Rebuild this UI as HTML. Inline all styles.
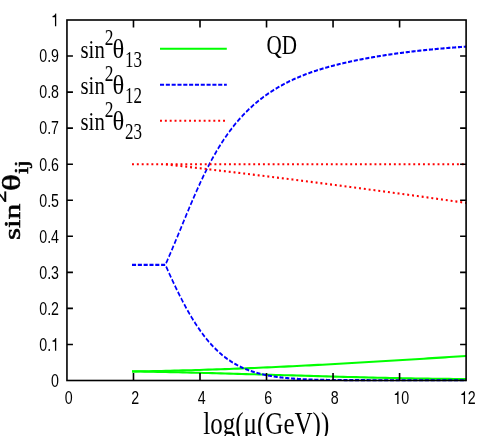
<!DOCTYPE html>
<html><head><meta charset="utf-8"><title>plot</title>
<style>html,body{margin:0;padding:0;background:#fff;overflow:hidden}svg{display:block;will-change:transform}</style>
</head><body>
<svg width="491" height="436" viewBox="0 0 491 436">
<rect width="491" height="436" fill="#fff"/>
<g transform="scale(0.7950,1)">
<polyline stroke="#00ff00" stroke-width="2.10" fill="none" points="166.04,371.45 171.36,371.39 176.68,371.32 182.00,371.25 187.32,371.18 192.64,371.10 197.96,371.02 203.28,370.93 208.59,370.84 213.91,370.74 219.23,370.64 224.55,370.53 229.87,370.42 235.19,370.31 240.51,370.19 245.83,370.07 251.15,369.94 256.47,369.81 261.79,369.67 267.11,369.53 272.43,369.39 277.75,369.24 283.07,369.09 288.39,368.93 293.71,368.77 299.03,368.61 304.35,368.45 309.67,368.28 314.99,368.10 320.31,367.93 325.63,367.75 330.95,367.56 336.27,367.38 341.59,367.19 346.91,366.99 352.23,366.80 357.54,366.60 362.86,366.40 368.18,366.19 373.50,365.98 378.82,365.77 384.14,365.56 389.46,365.34 394.78,365.12 400.10,364.90 405.42,364.68 410.74,364.45 416.06,364.22 421.38,363.99 426.70,363.76 432.02,363.52 437.34,363.28 442.66,363.04 447.98,362.80 453.30,362.56 458.62,362.31 463.94,362.06 469.26,361.81 474.58,361.56 479.90,361.31 485.22,361.05 490.54,360.80 495.86,360.54 501.18,360.28 506.49,360.02 511.81,359.76 517.13,359.49 522.45,359.23 527.77,358.96 533.09,358.69 538.41,358.42 543.73,358.15 549.05,357.88 554.37,357.61 559.69,357.34 565.01,357.07 570.33,356.79 575.65,356.52 580.97,356.24 586.29,355.97"/>
<polyline stroke="#00ff00" stroke-width="2.10" fill="none" points="166.04,371.42 171.36,371.49 176.68,371.56 182.00,371.63 187.32,371.71 192.64,371.78 197.96,371.87 203.28,371.95 208.59,372.04 213.91,372.13 219.23,372.22 224.55,372.31 229.87,372.41 235.19,372.51 240.51,372.61 245.83,372.72 251.15,372.82 256.47,372.93 261.79,373.04 267.11,373.15 272.43,373.26 277.75,373.37 283.07,373.49 288.39,373.60 293.71,373.72 299.03,373.84 304.35,373.96 309.67,374.08 314.99,374.20 320.31,374.32 325.63,374.44 330.95,374.56 336.27,374.68 341.59,374.81 346.91,374.93 352.23,375.05 357.54,375.18 362.86,375.30 368.18,375.42 373.50,375.54 378.82,375.67 384.14,375.79 389.46,375.91 394.78,376.03 400.10,376.15 405.42,376.26 410.74,376.38 416.06,376.50 421.38,376.61 426.70,376.73 432.02,376.84 437.34,376.95 442.66,377.06 447.98,377.17 453.30,377.27 458.62,377.38 463.94,377.48 469.26,377.58 474.58,377.68 479.90,377.77 485.22,377.86 490.54,377.95 495.86,378.04 501.18,378.13 506.49,378.21 511.81,378.29 517.13,378.37 522.45,378.44 527.77,378.51 533.09,378.58 538.41,378.64 543.73,378.70 549.05,378.76 554.37,378.81 559.69,378.86 565.01,378.91 570.33,378.95 575.65,378.99 580.97,379.02 586.29,379.05"/>
<polyline stroke="#0000ff" stroke-width="2.10" fill="none" stroke-dasharray="5.12,2.20" points="166.04,264.90 207.92,264.90 208.68,263.64 209.44,262.28 210.20,260.91 210.96,259.53 211.72,258.15 212.47,256.76 213.23,255.36 213.99,253.95 214.75,252.54 215.51,251.13 216.27,249.70 217.02,248.28 217.78,246.85 218.54,245.41 219.30,243.97 220.06,242.52 220.81,241.08 221.57,239.62 222.33,238.17 223.09,236.71 223.85,235.25 224.61,233.79 225.36,232.33 226.12,230.87 226.88,229.40 227.64,227.94 228.40,226.47 229.16,225.01 229.91,223.55 230.67,222.08 231.43,220.62 232.19,219.16 232.95,217.70 233.70,216.25 234.46,214.80 235.22,213.35 235.98,211.90 236.74,210.46 237.50,209.02 238.25,207.59 239.01,206.16 239.77,204.73 240.53,203.31 241.29,201.90 242.05,200.49 242.80,199.09 243.56,197.69 244.32,196.30 245.08,194.92 245.84,193.54 246.60,192.17 247.35,190.81 248.11,189.46 248.87,188.11 249.63,186.77 250.39,185.44 251.14,184.12 251.90,182.81 252.66,181.51 253.42,180.22 254.18,178.93 254.94,177.66 255.69,176.39 256.45,175.14 257.21,173.89 257.97,172.66 258.73,171.43 259.49,170.22 260.24,169.02 261.00,167.83 261.76,166.64 262.52,165.47 263.28,164.31 264.03,163.17 264.79,162.03 265.55,160.90 266.31,159.78 267.07,158.68 267.83,157.58 268.58,156.50 269.34,155.43 270.10,154.36 270.86,153.31 271.62,152.27 272.38,151.24 273.13,150.22 273.89,149.21 274.65,148.21 275.41,147.22 276.17,146.24 276.92,145.27 277.68,144.31 278.44,143.36 279.20,142.42 279.96,141.49 280.72,140.56 281.47,139.65 282.23,138.75 282.99,137.86 283.75,136.98 284.51,136.11 285.27,135.24 286.02,134.39 286.78,133.54 287.54,132.71 288.30,131.88 289.06,131.06 289.82,130.25 290.57,129.45 291.33,128.66 292.09,127.88 292.85,127.10 293.61,126.34 294.36,125.58 295.12,124.83 295.88,124.09 296.64,123.35 297.40,122.63 298.16,121.91 298.91,121.20 299.67,120.50 300.43,119.81 301.19,119.12 301.95,118.44 302.71,117.77 303.46,117.10 304.22,116.45 304.98,115.80 305.74,115.15 306.50,114.52 307.25,113.89 308.01,113.27 308.77,112.65 309.53,112.04 310.29,111.44 311.05,110.84 311.80,110.25 312.56,109.67 313.32,109.09 314.08,108.52 314.84,107.96 315.60,107.40 316.35,106.85 317.11,106.30 317.87,105.76 318.63,105.23 319.39,104.70 320.14,104.17 320.90,103.66 321.66,103.14 322.42,102.63 323.18,102.13 323.94,101.64 324.69,101.14 325.45,100.66 326.21,100.18 326.97,99.70 327.73,99.23 328.49,98.76 329.24,98.30 330.00,97.84 330.76,97.39 331.52,96.94 332.28,96.49 333.04,96.05 333.79,95.62 334.55,95.19 335.31,94.76 336.07,94.34 336.83,93.92 337.58,93.51 338.34,93.10 339.10,92.69 339.86,92.29 340.62,91.89 341.38,91.50 342.13,91.11 342.89,90.72 343.65,90.34 344.41,89.96 345.17,89.58 345.93,89.21 346.68,88.84 347.44,88.48 348.20,88.12 348.96,87.76 349.72,87.41 350.47,87.06 351.23,86.71 351.99,86.37 352.75,86.03 353.51,85.69 354.27,85.36 355.02,85.03 355.78,84.70 356.54,84.38 357.30,84.06 358.06,83.74 358.82,83.42 359.57,83.11 360.33,82.80 361.09,82.50 361.85,82.19 362.61,81.89 363.36,81.60 364.12,81.30 364.88,81.01 365.64,80.72 366.40,80.44 367.16,80.15 367.91,79.87 368.67,79.59 369.43,79.32 370.19,79.05 370.95,78.78 371.71,78.51 372.46,78.24 373.22,77.98 373.98,77.72 374.74,77.46 375.50,77.21 376.26,76.95 377.01,76.70 377.77,76.45 378.53,76.21 379.29,75.96 380.05,75.72 380.80,75.48 381.56,75.24 382.32,75.01 383.08,74.77 383.84,74.54 384.60,74.31 385.35,74.08 386.11,73.86 386.87,73.63 387.63,73.41 388.39,73.19 389.15,72.98 389.90,72.76 390.66,72.55 391.42,72.33 392.18,72.12 392.94,71.92 393.69,71.71 394.45,71.50 395.21,71.30 395.97,71.10 396.73,70.90 397.49,70.70 398.24,70.51 399.00,70.31 399.76,70.12 400.52,69.93 401.28,69.74 402.04,69.55 402.79,69.36 403.55,69.18 404.31,68.99 405.07,68.81 405.83,68.63 406.58,68.45 407.34,68.27 408.10,68.09 408.86,67.92 409.62,67.74 410.38,67.57 411.13,67.40 411.89,67.23 412.65,67.06 413.41,66.89 414.17,66.73 414.93,66.56 415.68,66.40 416.44,66.24 417.20,66.08 417.96,65.91 418.72,65.76 419.48,65.60 420.23,65.44 420.99,65.29 421.75,65.13 422.51,64.98 423.27,64.83 424.02,64.67 424.78,64.52 425.54,64.37 426.30,64.23 427.06,64.08 427.82,63.93 428.57,63.79 429.33,63.64 430.09,63.50 430.85,63.36 431.61,63.22 432.37,63.08 433.12,62.94 433.88,62.80 434.64,62.66 435.40,62.52 436.16,62.39 436.91,62.25 437.67,62.12 438.43,61.98 439.19,61.85 439.95,61.72 440.71,61.58 441.46,61.45 442.22,61.32 442.98,61.19 443.74,61.07 444.50,60.94 445.26,60.81 446.01,60.69 446.77,60.56 447.53,60.44 448.29,60.31 449.05,60.19 449.81,60.07 450.56,59.94 451.32,59.82 452.08,59.70 452.84,59.58 453.60,59.46 454.35,59.35 455.11,59.23 455.87,59.11 456.63,59.00 457.39,58.88 458.15,58.77 458.90,58.65 459.66,58.54 460.42,58.43 461.18,58.31 461.94,58.20 462.70,58.09 463.45,57.98 464.21,57.87 464.97,57.77 465.73,57.66 466.49,57.55 467.24,57.44 468.00,57.34 468.76,57.23 469.52,57.13 470.28,57.02 471.04,56.92 471.79,56.82 472.55,56.71 473.31,56.61 474.07,56.51 474.83,56.41 475.59,56.31 476.34,56.21 477.10,56.11 477.86,56.01 478.62,55.92 479.38,55.82 480.13,55.72 480.89,55.63 481.65,55.53 482.41,55.44 483.17,55.34 483.93,55.25 484.68,55.16 485.44,55.06 486.20,54.97 486.96,54.88 487.72,54.79 488.48,54.70 489.23,54.61 489.99,54.52 490.75,54.43 491.51,54.34 492.27,54.26 493.03,54.17 493.78,54.08 494.54,54.00 495.30,53.91 496.06,53.82 496.82,53.74 497.57,53.66 498.33,53.57 499.09,53.49 499.85,53.41 500.61,53.32 501.37,53.24 502.12,53.16 502.88,53.08 503.64,53.00 504.40,52.92 505.16,52.84 505.92,52.76 506.67,52.69 507.43,52.61 508.19,52.53 508.95,52.45 509.71,52.38 510.46,52.30 511.22,52.23 511.98,52.15 512.74,52.08 513.50,52.00 514.26,51.93 515.01,51.85 515.77,51.78 516.53,51.71 517.29,51.64 518.05,51.57 518.81,51.49 519.56,51.42 520.32,51.35 521.08,51.28 521.84,51.21 522.60,51.14 523.35,51.08 524.11,51.01 524.87,50.94 525.63,50.87 526.39,50.81 527.15,50.74 527.90,50.67 528.66,50.61 529.42,50.54 530.18,50.48 530.94,50.41 531.70,50.35 532.45,50.28 533.21,50.22 533.97,50.16 534.73,50.09 535.49,50.03 536.25,49.97 537.00,49.91 537.76,49.85 538.52,49.79 539.28,49.73 540.04,49.67 540.79,49.61 541.55,49.55 542.31,49.49 543.07,49.43 543.83,49.37 544.59,49.31 545.34,49.25 546.10,49.20 546.86,49.14 547.62,49.08 548.38,49.03 549.14,48.97 549.89,48.92 550.65,48.86 551.41,48.81 552.17,48.75 552.93,48.70 553.68,48.64 554.44,48.59 555.20,48.54 555.96,48.48 556.72,48.43 557.48,48.38 558.23,48.33 558.99,48.28 559.75,48.22 560.51,48.17 561.27,48.12 562.03,48.07 562.78,48.02 563.54,47.97 564.30,47.92 565.06,47.87 565.82,47.82 566.57,47.78 567.33,47.73 568.09,47.68 568.85,47.63 569.61,47.58 570.37,47.54 571.12,47.49 571.88,47.44 572.64,47.40 573.40,47.35 574.16,47.31 574.92,47.26 575.67,47.22 576.43,47.17 577.19,47.13 577.95,47.08 578.71,47.04 579.47,46.99 580.22,46.95 580.98,46.91 581.74,46.86 582.50,46.82 583.26,46.78 584.01,46.74 584.77,46.70 585.53,46.65 586.29,46.61"/>
<polyline stroke="#0000ff" stroke-width="2.10" fill="none" stroke-dasharray="5.12,2.20" stroke-dashoffset="5.29" points="207.92,264.90 208.58,265.79 209.23,266.96 209.88,268.13 210.53,269.29 211.18,270.45 211.83,271.61 212.48,272.76 213.13,273.90 213.78,275.05 214.43,276.18 215.08,277.31 215.73,278.44 216.39,279.56 217.04,280.68 217.69,281.79 218.34,282.90 218.99,284.00 219.64,285.09 220.29,286.18 220.94,287.27 221.59,288.34 222.24,289.41 222.89,290.48 223.54,291.54 224.19,292.59 224.85,293.64 225.50,294.68 226.15,295.71 226.80,296.74 227.45,297.76 228.10,298.77 228.75,299.77 229.40,300.77 230.05,301.77 230.70,302.75 231.35,303.73 232.00,304.70 232.66,305.66 233.31,306.62 233.96,307.57 234.61,308.51 235.26,309.44 235.91,310.37 236.56,311.29 237.21,312.20 237.86,313.10 238.51,314.00 239.16,314.89 239.81,315.77 240.46,316.64 241.12,317.51 241.77,318.36 242.42,319.21 243.07,320.06 243.72,320.89 244.37,321.72 245.02,322.53 245.67,323.34 246.32,324.15 246.97,324.94 247.62,325.73 248.27,326.51 248.93,327.28 249.58,328.04 250.23,328.79 250.88,329.54 251.53,330.28 252.18,331.01 252.83,331.74 253.48,332.45 254.13,333.16 254.78,333.86 255.43,334.55 256.08,335.24 256.74,335.92 257.39,336.58 258.04,337.25 258.69,337.90 259.34,338.55 259.99,339.19 260.64,339.82 261.29,340.44 261.94,341.06 262.59,341.67 263.24,342.27 263.89,342.86 264.54,343.45 265.20,344.03 265.85,344.60 266.50,345.16 267.15,345.72 267.80,346.27 268.45,346.82 269.10,347.35 269.75,347.88 270.40,348.41 271.05,348.92 271.70,349.43 272.35,349.93 273.01,350.43 273.66,350.92 274.31,351.40 274.96,351.88 275.61,352.35 276.26,352.81 276.91,353.26 277.56,353.71 278.21,354.16 278.86,354.60 279.51,355.03 280.16,355.45 280.81,355.87 281.47,356.29 282.12,356.69 282.77,357.09 283.42,357.49 284.07,357.88 284.72,358.26 285.37,358.64 286.02,359.02 286.67,359.38 287.32,359.74 287.97,360.10 288.62,360.45 289.28,360.80 289.93,361.14 290.58,361.47 291.23,361.81 291.88,362.13 292.53,362.45 293.18,362.77 293.83,363.08 294.48,363.38 295.13,363.68 295.78,363.98 296.43,364.27 297.09,364.56 297.74,364.84 298.39,365.12 299.04,365.39 299.69,365.66 300.34,365.93 300.99,366.19 301.64,366.44 302.29,366.69 302.94,366.94 303.59,367.19 304.24,367.43 304.89,367.66 305.55,367.90 306.20,368.12 306.85,368.35 307.50,368.57 308.15,368.79 308.80,369.00 309.45,369.21 310.10,369.42 310.75,369.62 311.40,369.82 312.05,370.02 312.70,370.21 313.36,370.40 314.01,370.59 314.66,370.77 315.31,370.95 315.96,371.13 316.61,371.30 317.26,371.47 317.91,371.64 318.56,371.81 319.21,371.97 319.86,372.13 320.51,372.28 321.16,372.44 321.82,372.59 322.47,372.74 323.12,372.88 323.77,373.03 324.42,373.17 325.07,373.31 325.72,373.44 326.37,373.58 327.02,373.71 327.67,373.84 328.32,373.96 328.97,374.09 329.63,374.21 330.28,374.33 330.93,374.45 331.58,374.56 332.23,374.68 332.88,374.79 333.53,374.90 334.18,375.01 334.83,375.11 335.48,375.21 336.13,375.32 336.78,375.42 337.44,375.51 338.09,375.61 338.74,375.70 339.39,375.80 340.04,375.89 340.69,375.98 341.34,376.07 341.99,376.15 342.64,376.24 343.29,376.32 343.94,376.40 344.59,376.48 345.24,376.56 345.90,376.64 346.55,376.71 347.20,376.79 347.85,376.86 348.50,376.93 349.15,377.00 349.80,377.07 350.45,377.14 351.10,377.20 351.75,377.27 352.40,377.33 353.05,377.39 353.71,377.45 354.36,377.51 355.01,377.57 355.66,377.63 356.31,377.69 356.96,377.74 357.61,377.80 358.26,377.85 358.91,377.90 359.56,377.96 360.21,378.01 360.86,378.06 361.51,378.10 362.17,378.15 362.82,378.20 363.47,378.24 364.12,378.29 364.77,378.33 365.42,378.38 366.07,378.42 366.72,378.46 367.37,378.50 368.02,378.54 368.67,378.58 369.32,378.62 369.98,378.66 370.63,378.69 371.28,378.73 371.93,378.77 372.58,378.80 373.23,378.83 373.88,378.87 374.53,378.90 375.18,378.93 375.83,378.96 376.48,379.00 377.13,379.03 377.79,379.06 378.44,379.08 379.09,379.11 379.74,379.14 380.39,379.17 381.04,379.20 381.69,379.22 382.34,379.25 382.99,379.27 383.64,379.30 384.29,379.32 384.94,379.35 385.59,379.37 386.25,379.39 386.90,379.42 387.55,379.44 388.20,379.46 388.85,379.48 389.50,379.50 390.15,379.52 390.80,379.54 391.45,379.56 392.10,379.58 392.75,379.60 393.40,379.62 394.06,379.63 394.71,379.65 395.36,379.67 396.01,379.69 396.66,379.70 397.31,379.72 397.96,379.74 398.61,379.75 399.26,379.77 399.91,379.78 400.56,379.80 401.21,379.81 401.86,379.82 402.52,379.84 404.06,379.86 405.60,379.87 407.15,379.89 408.69,379.90 410.24,379.92 411.78,379.93 413.33,379.95 414.87,379.96 416.41,379.97 417.96,379.98 419.50,380.00 421.05,380.01 422.59,380.02 424.14,380.03 425.68,380.04 427.22,380.05 428.77,380.05 430.31,380.06 431.86,380.07 433.40,380.08 434.95,380.09 436.49,380.09 438.03,380.10 439.58,380.11 441.12,380.11 442.67,380.12 444.21,380.12 445.76,380.13 447.30,380.13 448.85,380.14 450.39,380.14 451.93,380.15 453.48,380.15 455.02,380.16 456.57,380.16 458.11,380.16 459.66,380.17 461.20,380.17 462.74,380.17 464.29,380.18 465.83,380.18 467.38,380.18 468.92,380.19 470.47,380.19 472.01,380.19 473.55,380.19 475.10,380.20 476.64,380.20 478.19,380.20 479.73,380.20 481.28,380.20 482.82,380.21 484.36,380.21 485.91,380.21 487.45,380.21 489.00,380.21 490.54,380.21 492.09,380.22 493.63,380.22 495.17,380.22 496.72,380.22 498.26,380.22 499.81,380.22 501.35,380.22 502.90,380.22 504.44,380.23 505.98,380.23 507.53,380.23 509.07,380.23 510.62,380.23 512.16,380.23 513.71,380.23 515.25,380.23 516.80,380.23 518.34,380.23 519.88,380.23 521.43,380.23 522.97,380.23 524.52,380.24 526.06,380.24 527.61,380.24 529.15,380.24 530.69,380.24 532.24,380.24 533.78,380.24 535.33,380.24 536.87,380.24 538.42,380.24 539.96,380.24 541.50,380.24 543.05,380.24 544.59,380.24 546.14,380.24 547.68,380.24 549.23,380.24 550.77,380.24 552.31,380.24 553.86,380.24 555.40,380.24 556.95,380.24 558.49,380.24 560.04,380.24 561.58,380.24 563.12,380.24 564.67,380.24 566.21,380.24 567.76,380.24 569.30,380.24 570.85,380.24 572.39,380.24 573.93,380.24 575.48,380.24 577.02,380.24 578.57,380.25 580.11,380.25 581.66,380.25 583.20,380.25 584.74,380.25 586.29,380.25"/>
<polyline stroke="#ff0000" stroke-width="2.10" fill="none" stroke-dasharray="2.44,3.66" points="166.04,164.20 586.29,164.20"/>
<polyline stroke="#ff0000" stroke-width="2.10" fill="none" stroke-dasharray="2.44,3.66" stroke-dashoffset="4.58" points="207.22,164.20 211.05,164.55 214.88,164.89 218.71,165.24 222.54,165.59 226.37,165.94 230.20,166.30 234.03,166.65 237.85,167.00 241.68,167.35 245.51,167.71 249.34,168.07 253.17,168.42 257.00,168.78 260.83,169.14 264.66,169.50 268.49,169.86 272.31,170.22 276.14,170.58 279.97,170.95 283.80,171.31 287.63,171.67 291.46,172.04 295.29,172.41 299.12,172.77 302.95,173.14 306.78,173.51 310.60,173.88 314.43,174.25 318.26,174.63 322.09,175.00 325.92,175.37 329.75,175.75 333.58,176.12 337.41,176.50 341.24,176.88 345.06,177.26 348.89,177.64 352.72,178.02 356.55,178.40 360.38,178.78 364.21,179.16 368.04,179.55 371.87,179.93 375.70,180.32 379.53,180.70 383.35,181.09 387.18,181.48 391.01,181.87 394.84,182.26 398.67,182.65 402.50,183.04 406.33,183.43 410.16,183.83 413.99,184.22 417.82,184.62 421.64,185.01 425.47,185.41 429.30,185.81 433.13,186.21 436.96,186.61 440.79,187.01 444.62,187.41 448.45,187.81 452.28,188.22 456.10,188.62 459.93,189.03 463.76,189.43 467.59,189.84 471.42,190.25 475.25,190.66 479.08,191.07 482.91,191.48 486.74,191.89 490.57,192.30 494.39,192.72 498.22,193.13 502.05,193.55 505.88,193.96 509.71,194.38 513.54,194.80 517.37,195.22 521.20,195.64 525.03,196.06 528.85,196.48 532.68,196.90 536.51,197.32 540.34,197.75 544.17,198.17 548.00,198.60 551.83,199.03 555.66,199.45 559.49,199.88 563.32,200.31 567.14,200.74 570.97,201.17 574.80,201.61 578.63,202.04 582.46,202.47 586.29,202.91"/>
<path stroke="#00ff00" stroke-width="2.10" fill="none" d="M201.26 48.8H285.28"/>
<path stroke="#0000ff" stroke-width="2.10" fill="none" stroke-dasharray="5.12,2.20" d="M201.26 84.8H285.28"/>
<path stroke="#ff0000" stroke-width="2.10" fill="none" stroke-dasharray="2.44,3.66" d="M201.26 120.7H285.28"/>
</g>
<g stroke="#000" stroke-width="1.60" fill="none">
<rect x="66.95" y="20.00" width="399.15" height="360.50"/>
<path d="M66.95 344.45h6.0 M466.10 344.45h-6.0"/>
<path d="M66.95 308.40h6.0 M466.10 308.40h-6.0"/>
<path d="M66.95 272.35h6.0 M466.10 272.35h-6.0"/>
<path d="M66.95 236.30h6.0 M466.10 236.30h-6.0"/>
<path d="M66.95 200.25h6.0 M466.10 200.25h-6.0"/>
<path d="M66.95 164.20h6.0 M466.10 164.20h-6.0"/>
<path d="M66.95 128.15h6.0 M466.10 128.15h-6.0"/>
<path d="M66.95 92.10h6.0 M466.10 92.10h-6.0"/>
<path d="M66.95 56.05h6.0 M466.10 56.05h-6.0"/>
<path d="M133.48 380.50v-7.4 M133.48 20.00v7.4"/>
<path d="M200.00 380.50v-7.4 M200.00 20.00v7.4"/>
<path d="M266.53 380.50v-7.4 M266.53 20.00v7.4"/>
<path d="M333.05 380.50v-7.4 M333.05 20.00v7.4"/>
<path d="M399.58 380.50v-7.4 M399.58 20.00v7.4"/>
</g>
<g transform="scale(0.7950,1)">
</g>
<g font-family="Liberation Sans, sans-serif" font-size="17.9" fill="#000">
<text transform="translate(51.09,386.80) scale(0.795,1)">0</text>
<text transform="translate(39.22,350.75) scale(0.795,1)">0</text><text transform="translate(47.13,350.75) scale(0.795,1)">.</text><path d="M.272 0H.362V.716H.3C.283 .63 .2 .578 .102 .57V.505H.272Z" transform="translate(51.09,350.75) scale(14.230,-17.900)"/>
<text transform="translate(39.22,314.70) scale(0.795,1)">0</text><text transform="translate(47.13,314.70) scale(0.795,1)">.</text><text transform="translate(51.09,314.70) scale(0.795,1)">2</text>
<text transform="translate(39.22,278.65) scale(0.795,1)">0</text><text transform="translate(47.13,278.65) scale(0.795,1)">.</text><text transform="translate(51.09,278.65) scale(0.795,1)">3</text>
<text transform="translate(39.22,242.60) scale(0.795,1)">0</text><text transform="translate(47.13,242.60) scale(0.795,1)">.</text><text transform="translate(51.09,242.60) scale(0.795,1)">4</text>
<text transform="translate(39.22,206.55) scale(0.795,1)">0</text><text transform="translate(47.13,206.55) scale(0.795,1)">.</text><text transform="translate(51.09,206.55) scale(0.795,1)">5</text>
<text transform="translate(39.22,170.50) scale(0.795,1)">0</text><text transform="translate(47.13,170.50) scale(0.795,1)">.</text><text transform="translate(51.09,170.50) scale(0.795,1)">6</text>
<text transform="translate(39.22,134.45) scale(0.795,1)">0</text><text transform="translate(47.13,134.45) scale(0.795,1)">.</text><text transform="translate(51.09,134.45) scale(0.795,1)">7</text>
<text transform="translate(39.22,98.40) scale(0.795,1)">0</text><text transform="translate(47.13,98.40) scale(0.795,1)">.</text><text transform="translate(51.09,98.40) scale(0.795,1)">8</text>
<text transform="translate(39.22,62.35) scale(0.795,1)">0</text><text transform="translate(47.13,62.35) scale(0.795,1)">.</text><text transform="translate(51.09,62.35) scale(0.795,1)">9</text>
<path d="M.272 0H.362V.716H.3C.283 .63 .2 .578 .102 .57V.505H.272Z" transform="translate(51.09,26.30) scale(14.230,-17.900)"/>
<text transform="translate(64.69,404.10) scale(0.795,1)">0</text>
<text transform="translate(131.22,404.10) scale(0.795,1)">2</text>
<text transform="translate(197.74,404.10) scale(0.795,1)">4</text>
<text transform="translate(264.27,404.10) scale(0.795,1)">6</text>
<text transform="translate(330.79,404.10) scale(0.795,1)">8</text>
<path d="M.272 0H.362V.716H.3C.283 .63 .2 .578 .102 .57V.505H.272Z" transform="translate(393.36,404.10) scale(14.230,-17.900)"/><text transform="translate(401.27,404.10) scale(0.795,1)">0</text>
<path d="M.272 0H.362V.716H.3C.283 .63 .2 .578 .102 .57V.505H.272Z" transform="translate(459.89,404.10) scale(14.230,-17.900)"/><text transform="translate(467.80,404.10) scale(0.795,1)">2</text>
</g>
<g>
</g>
<g font-family="Liberation Serif, serif" fill="#000">
<text transform="translate(80.50,57.90) scale(0.795,1)" font-size="26.2">sin</text>
<text transform="translate(104.80,44.90) scale(0.741,1)" font-size="23.5">2</text>
<text transform="translate(112.50,58.10) scale(0.890,1)" font-size="27.6">θ</text>
<text transform="translate(125.10,66.50) scale(0.706,1)" font-size="24.1">13</text>
<text transform="translate(80.50,93.90) scale(0.795,1)" font-size="26.2">sin</text>
<text transform="translate(104.80,80.90) scale(0.741,1)" font-size="23.5">2</text>
<text transform="translate(112.50,94.10) scale(0.890,1)" font-size="27.6">θ</text>
<text transform="translate(125.10,102.50) scale(0.706,1)" font-size="24.1">12</text>
<text transform="translate(80.50,129.90) scale(0.795,1)" font-size="26.2">sin</text>
<text transform="translate(104.80,116.90) scale(0.741,1)" font-size="23.5">2</text>
<text transform="translate(112.50,130.10) scale(0.890,1)" font-size="27.6">θ</text>
<text transform="translate(125.10,138.50) scale(0.706,1)" font-size="24.1">23</text>
<text transform="translate(266.60,54.40) scale(0.795,1)" font-size="26.6">QD</text>
<text transform="translate(203.30,434.20) scale(0.795,1)" font-size="31.5">log(μ(GeV))</text>
<text transform="translate(19.80,240.00) rotate(-90) scale(1.000,0.750)" font-size="31.0" font-weight="normal" stroke="#000" stroke-width="0.70">sin</text>
<text transform="translate(5.90,202.70) rotate(-90) scale(1.000,0.750)" font-size="24.8" font-weight="normal" stroke="#000" stroke-width="0.70">2</text>
<text transform="translate(19.80,190.90) rotate(-90) scale(1.130,0.800)" font-size="31.0" font-weight="normal" stroke="#000" stroke-width="0.70">θ</text>
<text transform="translate(27.75,174.10) rotate(-90) scale(1.000,0.750)" font-size="24.8" font-weight="normal" stroke="#000" stroke-width="0.70">ij</text>
</g>
</svg>
</body></html>
